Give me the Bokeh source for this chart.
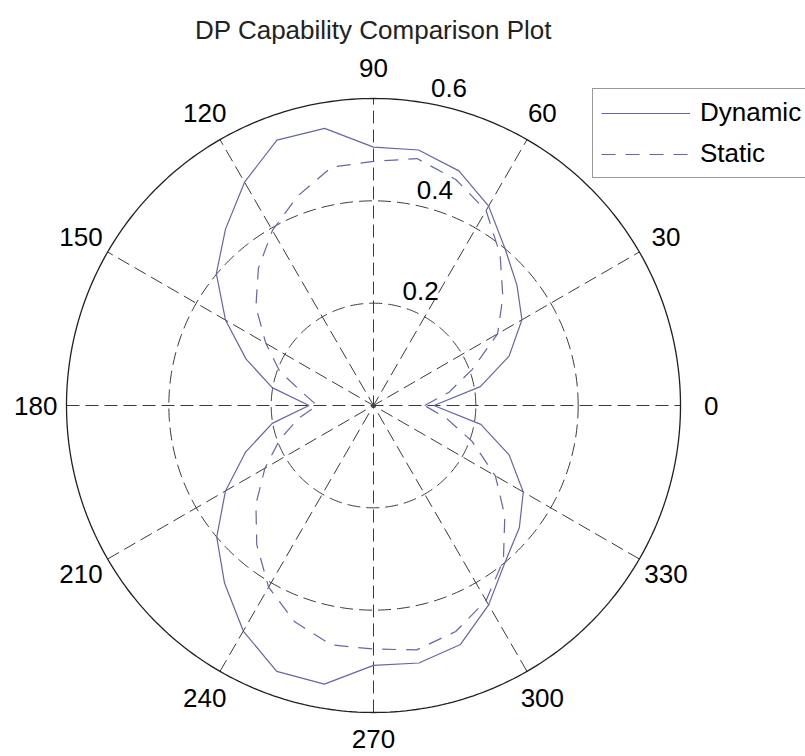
import numpy as np
from bokeh.plotting import figure
from bokeh.models import Legend, LegendItem
from bokeh.core.properties import value
from bokeh.embed import file_html
from bokeh.resources import INLINE

# ---------------- data ----------------
title_text = "DP Capability Comparison Plot"
angles_deg = list(range(0, 360, 10))
dynamic = [0.118, 0.212, 0.282, 0.335, 0.366, 0.400, 0.450, 0.488, 0.507,
           0.505, 0.550, 0.552, 0.504, 0.450, 0.401, 0.334, 0.265, 0.201,
           0.126, 0.201, 0.266, 0.334, 0.400, 0.453, 0.509, 0.553, 0.553,
           0.508, 0.511, 0.497, 0.450, 0.400, 0.372, 0.338, 0.282, 0.213]
static = [0.100, 0.150, 0.205, 0.280, 0.330, 0.385, 0.440, 0.470, 0.490,
          0.477, 0.473, 0.435, 0.395, 0.350, 0.300, 0.243, 0.195, 0.140,
          0.110, 0.150, 0.195, 0.245, 0.300, 0.355, 0.410, 0.450, 0.475,
          0.476, 0.485, 0.470, 0.440, 0.395, 0.335, 0.275, 0.205, 0.145]
series_names = ["Dynamic", "Static"]
ring_values = [0.2, 0.4, 0.6]
ring_labels = ["0.2", "0.4", "0.6"]
spoke_angles = [0, 30, 60, 90, 120, 150]
angle_ticks = list(range(0, 360, 30))
angle_tick_labels = [str(a) for a in angle_ticks]

# ---------------- layout ----------------
W, H = 805, 756
CX, CY = 373.0, 405.0          # pixel position of the pole
RMAX = ring_values[-1]
SCALE = 307.0 / RMAX           # pixels per data unit
FONT = value("Liberation Sans")
LINE_COLOR = "#6565a8"
GRID_COLOR = "#3a3a3a"

p = figure(width=W, height=H,
           x_range=(-CX / SCALE, (W - CX) / SCALE),
           y_range=(-(H - CY) / SCALE, CY / SCALE),
           output_backend="svg", toolbar_location=None,
           x_axis_location=None, y_axis_location=None,
           min_border=0, outline_line_color=None,
           background_fill_color="white", border_fill_color="white")
p.grid.visible = False

# spokes
sa = np.deg2rad(spoke_angles)
p.segment(x0=-RMAX * np.cos(sa), y0=-RMAX * np.sin(sa),
          x1=RMAX * np.cos(sa), y1=RMAX * np.sin(sa),
          line_color=GRID_COLOR, line_width=1, line_dash="13 6")

# inner rings (dashed) and outer ring (solid)
t = np.linspace(0, 2 * np.pi, 361)
for rv in ring_values[:-1]:
    p.line(rv * np.cos(t), rv * np.sin(t), line_color=GRID_COLOR,
           line_width=1, line_dash="13 6")
p.line(RMAX * np.cos(t), RMAX * np.sin(t), line_color="#202020", line_width=1.3)

# ring labels (at 82 degrees, as MATLAB's polar does)
a82 = np.deg2rad(82)
rl = np.array(ring_values) + (ring_values[1] - ring_values[0]) / 20
p.text(x=rl * np.cos(a82), y=rl * np.sin(a82), text=ring_labels,
       text_font=FONT, text_font_size="26px", text_color="black",
       text_align="left", text_baseline="alphabetic",
       x_offset=14, y_offset=-8)

# angle labels
ta = np.deg2rad(angle_ticks)
lab_x = 1.1 * RMAX * np.cos(ta)
lab_y = 1.1 * RMAX * np.sin(ta)
# keep the bottom label inside the page
lab_dy = [-4 if a == 270 else 0 for a in angle_ticks]
p.text(x=lab_x, y=lab_y, y_offset=lab_dy,
       text=angle_tick_labels, text_font=FONT, text_font_size="26px",
       text_color="black", text_align="center", text_baseline="middle")

# data curves (closed)
th = np.deg2rad(angles_deg + [angles_deg[0] + 360])
dyn = np.array(dynamic + [dynamic[0]])
sta = np.array(static + [static[0]])
r_dyn = p.line(dyn * np.cos(th), dyn * np.sin(th), line_color=LINE_COLOR,
               line_width=1.2)
r_sta = p.line(sta * np.cos(th), sta * np.sin(th), line_color=LINE_COLOR,
               line_width=1.2, line_dash="14 10")

# title
p.text(x=[0], y=[(CY - 29) / SCALE], text=[title_text], text_font=FONT,
       text_font_size="26px", text_color="#222222", text_align="center",
       text_baseline="alphabetic")

legend = Legend(items=[LegendItem(label=series_names[0], renderers=[r_dyn]),
                       LegendItem(label=series_names[1], renderers=[r_sta])],
                location=(592, H - 178), orientation="vertical",
                label_text_font="Liberation Sans", label_text_font_size="26px",
                label_text_color="black",
                glyph_width=89, glyph_height=30, label_height=30,
                label_standoff=10, padding=8, spacing=10, margin=0,
                border_line_color="#333333", border_line_width=1,
                background_fill_color="white", background_fill_alpha=1.0)
p.add_layout(legend)

open("out.html", "w").write(file_html(p, INLINE))
